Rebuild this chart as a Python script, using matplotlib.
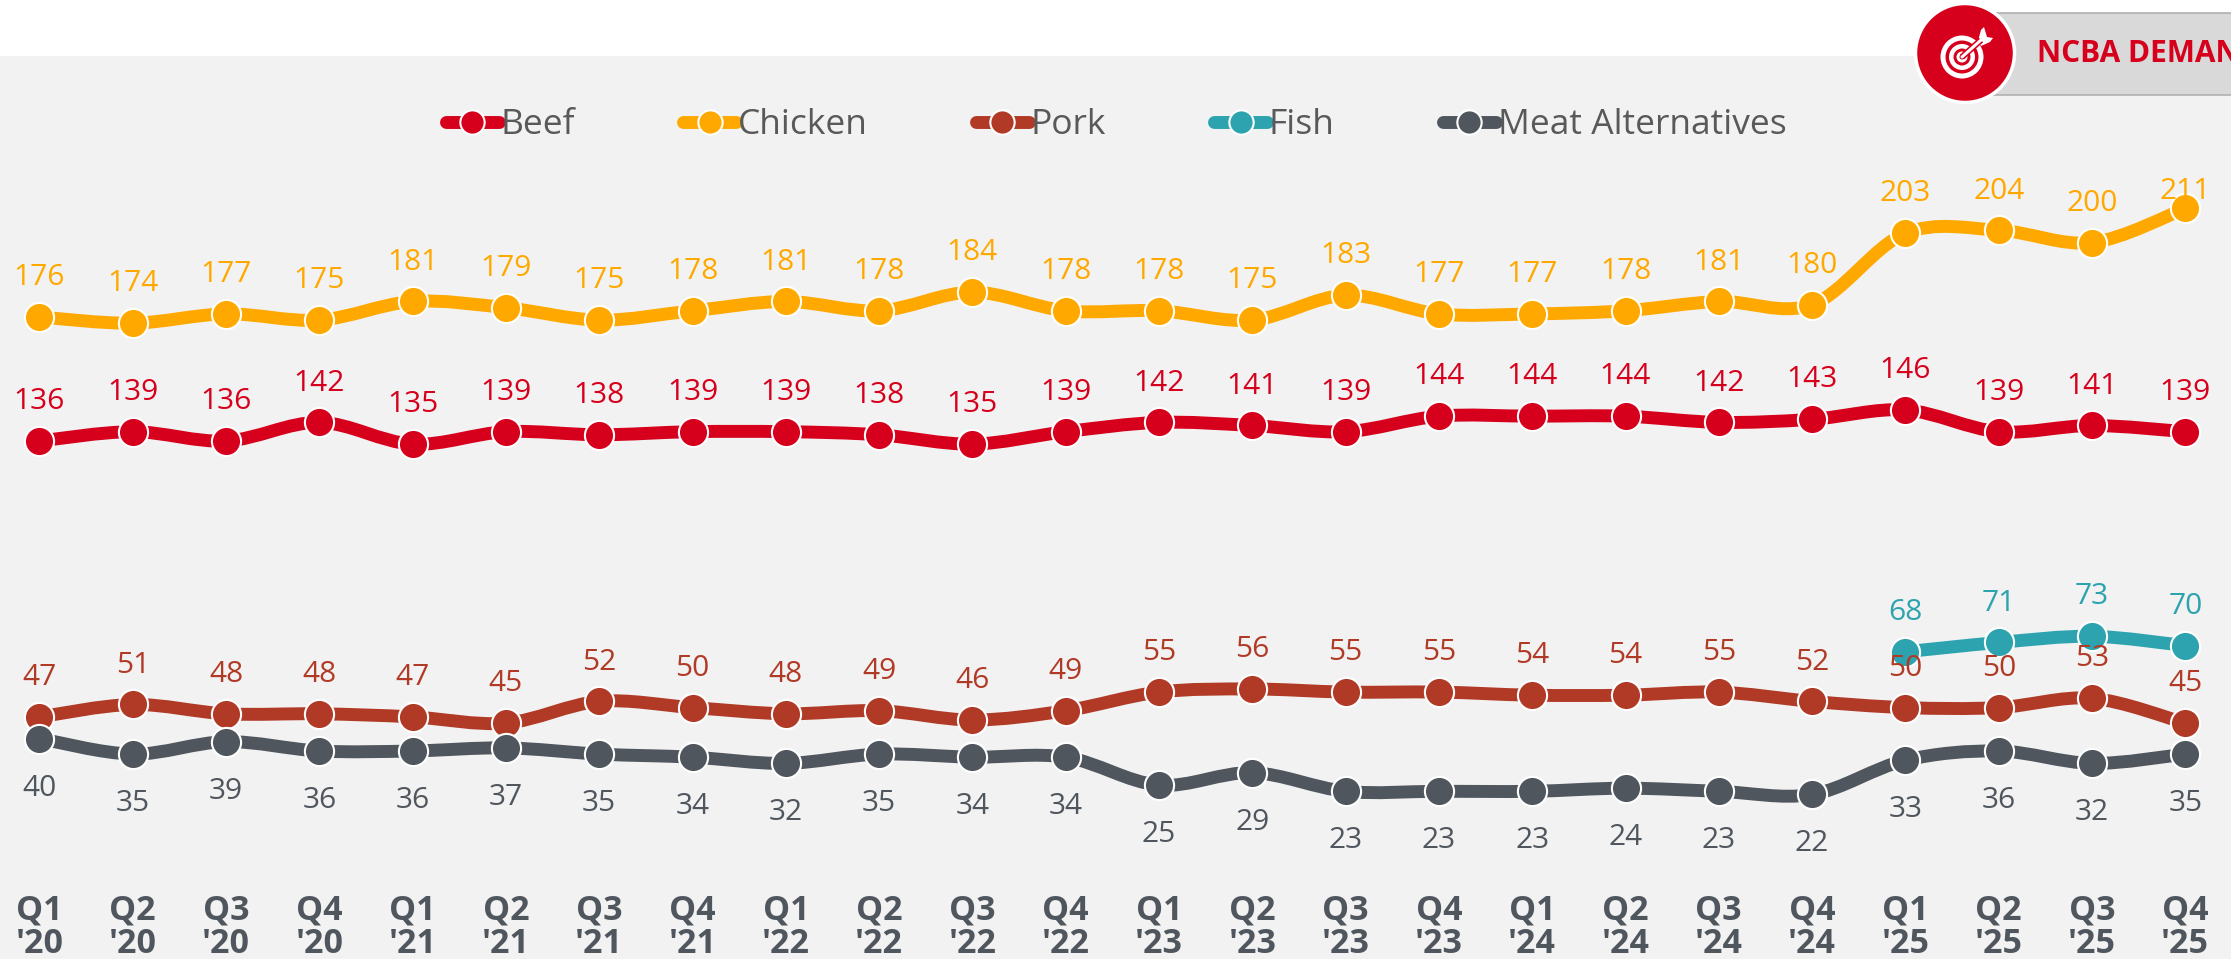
import matplotlib
matplotlib.use("Agg")
import matplotlib.pyplot as plt
from matplotlib.lines import Line2D
from matplotlib.patches import Circle, PathPatch, Polygon, Rectangle
from matplotlib.path import Path

quarters = ["Q1\n'20", "Q2\n'20", "Q3\n'20", "Q4\n'20", "Q1\n'21", "Q2\n'21", "Q3\n'21", "Q4\n'21",
            "Q1\n'22", "Q2\n'22", "Q3\n'22", "Q4\n'22", "Q1\n'23", "Q2\n'23", "Q3\n'23", "Q4\n'23",
            "Q1\n'24", "Q2\n'24", "Q3\n'24", "Q4\n'24", "Q1\n'25", "Q2\n'25", "Q3\n'25", "Q4\n'25"]

beef = [136, 139, 136, 142, 135, 139, 138, 139, 139, 138, 135, 139,
        142, 141, 139, 144, 144, 144, 142, 143, 146, 139, 141, 139]
chicken = [176, 174, 177, 175, 181, 179, 175, 178, 181, 178, 184, 178,
           178, 175, 183, 177, 177, 178, 181, 180, 203, 204, 200, 211]
pork = [47, 51, 48, 48, 47, 45, 52, 50, 48, 49, 46, 49,
        55, 56, 55, 55, 54, 54, 55, 52, 50, 50, 53, 45]
fish = [68, 71, 73, 70]
meat_alt = [40, 35, 39, 36, 36, 37, 35, 34, 32, 35, 34, 34,
            25, 29, 23, 23, 23, 24, 23, 22, 33, 36, 32, 35]

RED = "#D6001C"
ORANGE = "#FFA900"
BRICK = "#B13A26"
TEAL = "#2CA3AE"
SLATE = "#50565E"

plt.rcParams["font.family"] = ["Open Sans", "DejaVu Sans"]

fig = plt.figure(figsize=(22.31, 9.59), dpi=100, facecolor="white")
ax = fig.add_axes([0, 0, 1, (959 - 55.5) / 959], facecolor="#F2F2F2")
ax.set_xlim(-0.423, 23.49)
ax.set_ylim(-31.1, 260.35)
for s in ax.spines.values():
    s.set_visible(False)


def smooth_path(xs, ys):
    # same kind of curve as an Excel smoothed line
    verts = [(xs[0], ys[0])]
    codes = [Path.MOVETO]
    n = len(xs)
    for i in range(n - 1):
        a = max(i - 1, 0)
        b = min(i + 2, n - 1)
        verts.append((xs[i] + (xs[i + 1] - xs[a]) / 6, ys[i] + (ys[i + 1] - ys[a]) / 6))
        verts.append((xs[i + 1] - (xs[b] - xs[i]) / 6, ys[i + 1] - (ys[b] - ys[i]) / 6))
        verts.append((xs[i + 1], ys[i + 1]))
        codes += [Path.CURVE4] * 3
    return Path(verts, codes)


series = [
    ("Beef", beef, 0, RED, 12.7),
    ("Chicken", chicken, 0, ORANGE, 12.7),
    ("Pork", pork, 0, BRICK, 12.7),
    ("Fish", fish, 20, TEAL, 12.7),
    ("Meat Alternatives", meat_alt, 0, SLATE, -16),
]

handles = []
for z, (name, vals, start, color, off) in enumerate(series):
    xs = list(range(start, start + len(vals)))
    ax.add_patch(PathPatch(smooth_path(xs, vals), fill=False, edgecolor=color, lw=9.3,
                           capstyle="round", joinstyle="round", zorder=2 + z))
    ax.plot(xs, vals, ls="none", marker="o", ms=21, mfc=color, mec="white", mew=1.5, zorder=2 + z)
    for x, v in zip(xs, vals):
        # labels stop at the top of the plot area, so 211 sits on its marker
        ax.text(x, min(v + off, 216.5), str(v), color=color, fontsize=21.5,
                ha="center", va="center", zorder=10)
    handles.append(Line2D([0], [0], color=color, lw=9.3, solid_capstyle="round", marker="o",
                          ms=17.5, mfc=color, mec="white", mew=1.5, label=name))

ax.set_yticks([])
ax.set_xticks(range(len(quarters)))
ax.set_xticklabels(quarters, fontsize=24.5, fontweight="bold", color=SLATE, linespacing=0.98)
ax.tick_params(axis="x", length=0, pad=-47.5)

leg = ax.legend(handles=handles, loc="center", bbox_to_anchor=(1116 / 2231, (959 - 125) / (959 - 55.5)),
                ncols=5, frameon=False, fontsize=25.5, labelcolor="#595959", numpoints=1,
                handlelength=1.5, handletextpad=0.05, columnspacing=3.05, borderpad=0)

# badge at the top right, in pixel coordinates
ov = fig.add_axes([0, 0, 1, 1], facecolor="none")
ov.set_xlim(0, 2231)
ov.set_ylim(959, 0)
ov.axis("off")
ov.add_patch(Rectangle((1965, 12.7), 300, 82.5, fc="#D9D9D9", ec="#B0B0B0", lw=1.2))
ov.text(2037, 54.5, "NCBA DEMAND", color=RED, fontsize=21.5, fontweight="bold", va="center", ha="left")
ov.add_patch(Circle((1965, 53), 49.5, fc=RED, ec="white", lw=2.5))
cx, cy = 1962, 57
for r, c in [(21.5, "white"), (16.5, "#D6001C"), (13, "white"), (8.5, "#D6001C"), (5.5, "white"), (2.5, "#D6001C")]:
    ov.add_patch(Circle((cx, cy), r, fc=c, ec="none"))
ov.plot([cx, 1981], [cy, 40], color="#D6001C", lw=4.5, solid_capstyle="butt")
ov.plot([cx, 1981], [cy, 40], color="white", lw=2.2, solid_capstyle="round")
ov.add_patch(Polygon([(1978, 41), (1981, 30), (1984, 27), (1987, 37), (1993, 38), (1990, 42), (1981, 46)],
                     fc="white", ec="none"))

fig.savefig("out.png", dpi=100)
